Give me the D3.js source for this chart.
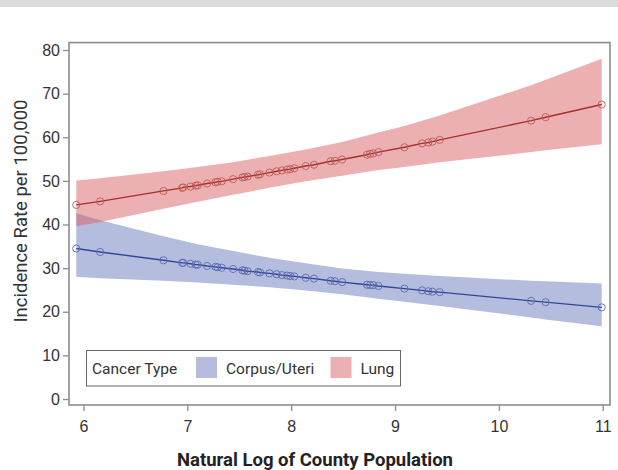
<!DOCTYPE html>
<html>
<head>
<meta charset="utf-8">
<script src="https://cdn.jsdelivr.net/npm/d3@7"></script>
<style>
  body { margin: 0; background: #fff; }
  svg { font-family: Roboto, "Liberation Sans", sans-serif; }
  .axis text { font-size: 16px; fill: #333; }
  .axis path { display: none; }
  .axis line { stroke: #8c8c8c; stroke-width: 1.3; }
</style>
</head>
<body>
<div id="chart"></div>
<script>
// log county population for each county (same x for both cancer types)
var logPop = [5.93, 6.16, 6.77, 6.95, 6.96, 7.03, 7.08, 7.10, 7.19, 7.27, 7.29, 7.33, 7.44, 7.53, 7.55, 7.58,
    7.68, 7.70, 7.79, 7.86, 7.91, 7.96, 7.99, 8.03, 8.14, 8.22, 8.38, 8.42, 8.49, 8.73, 8.76, 8.79, 8.84,
    9.09, 9.26, 9.32, 9.36, 9.43, 10.31, 10.45, 10.99];

// predicted incidence rates
var lungRate = [44.5, 45.3, 47.7, 48.4, 48.5, 48.7, 48.9, 49.0, 49.4, 49.7, 49.8, 49.9, 50.4, 50.8, 50.9, 51.0,
    51.4, 51.5, 51.9, 52.2, 52.4, 52.6, 52.7, 52.9, 53.4, 53.7, 54.5, 54.6, 54.9, 56.0, 56.2, 56.3, 56.6,
    57.7, 58.6, 58.8, 59.0, 59.4, 63.8, 64.6, 67.5];
var uteriRate = [34.5, 33.7, 31.8, 31.2, 31.2, 31.0, 30.8, 30.8, 30.5, 30.3, 30.2, 30.1, 29.8, 29.5, 29.4, 29.3,
    29.1, 29.0, 28.8, 28.6, 28.4, 28.3, 28.2, 28.1, 27.8, 27.6, 27.1, 27.0, 26.8, 26.2, 26.1, 26.1, 25.9,
    25.3, 24.9, 24.7, 24.6, 24.5, 22.5, 22.2, 21.0];

// confidence bands
var bandX = [5.93, 6.16, 6.77, 7.10, 7.44, 7.79, 8.14, 8.49, 8.84, 9.09, 9.43, 10.31, 10.45, 10.99];
var lungUpper = [50.1, 50.6, 52.2, 53.2, 54.3, 55.7, 57.2, 58.9, 61.1, 62.6, 65.0, 71.9, 73.2, 78.0];
var lungLower = [39.6, 40.6, 43.6, 45.2, 46.8, 48.4, 49.9, 51.2, 52.5, 53.2, 54.3, 56.6, 57.0, 58.4];
var uteriUpper = [42.6, 41.0, 37.3, 35.5, 33.9, 32.4, 31.1, 29.9, 29.1, 28.7, 28.2, 27.1, 27.0, 26.5];
var uteriLower = [28.0, 27.7, 27.1, 26.7, 26.2, 25.6, 24.9, 24.0, 23.0, 22.3, 21.3, 18.7, 18.2, 16.7];

var xTicks = [6, 7, 8, 9, 10, 11];
var yTicks = [0, 10, 20, 30, 40, 50, 60, 70, 80];

var margin = {top: 42.6, left: 69, right: 8, bottom: 65};
var width = 618 - margin.left - margin.right;
var height = 470 - margin.top - margin.bottom;

var svg = d3.select("#chart").append("svg")
    .attr("width", 618)
    .attr("height", 470);

// grey strip at the top
svg.append("rect")
    .attr("x", 0).attr("y", 0)
    .attr("width", 618).attr("height", 7)
    .attr("fill", "#dcdcdc");

var g = svg.append("g")
    .attr("transform", "translate(" + margin.left + "," + margin.top + ")");

var x = d3.scaleLinear().domain([5.86, 11.07]).range([0, width]);
var y = d3.scaleLinear().domain([-1.375, 81.7]).range([height, 0]);

var groups = [
    {name: "Corpus/Uteri", rate: uteriRate, upper: uteriUpper, lower: uteriLower,
        band: "rgba(107,123,191,0.5)", line: "#2f4796", dot: "#5a6cb0"},
    {name: "Lung", rate: lungRate, upper: lungUpper, lower: lungLower,
        band: "rgba(216,88,92,0.47)", line: "#a3302b", dot: "#bf5a55"}
];

var area = d3.area()
    .x(function(d) { return x(d.x); })
    .y0(function(d) { return y(d.lo); })
    .y1(function(d) { return y(d.hi); });

var line = d3.line()
    .x(function(d) { return x(d.x); })
    .y(function(d) { return y(d.v); });

groups.forEach(function(grp) {
    var bandData = bandX.map(function(v, i) {
        return {x: v, lo: grp.lower[i], hi: grp.upper[i]};
    });
    g.append("path")
        .datum(bandData)
        .attr("d", area)
        .attr("fill", grp.band);
});

groups.forEach(function(grp) {
    var pts = logPop.map(function(v, i) { return {x: v, v: grp.rate[i]}; });

    g.append("path")
        .datum(pts)
        .attr("d", line)
        .attr("fill", "none")
        .attr("stroke", grp.line)
        .attr("stroke-width", 1.4);

    g.selectAll(null)
        .data(pts)
        .enter().append("circle")
        .attr("cx", function(d) { return x(d.x); })
        .attr("cy", function(d) { return y(d.v); })
        .attr("r", 3.6)
        .attr("fill", "none")
        .attr("stroke", grp.dot)
        .attr("stroke-width", 0.9);
});

// axes
g.append("g")
    .attr("class", "axis")
    .call(d3.axisLeft(y).tickValues(yTicks).tickFormat(d3.format("d"))
        .tickSize(6).tickPadding(3).tickSizeOuter(0));

g.append("g")
    .attr("class", "axis")
    .attr("transform", "translate(0," + height + ")")
    .call(d3.axisBottom(x).tickValues(xTicks).tickFormat(d3.format("d"))
        .tickSize(6).tickPadding(10).tickSizeOuter(0));

// frame
g.append("rect")
    .attr("x", 0).attr("y", 0)
    .attr("width", width).attr("height", height)
    .attr("fill", "none")
    .attr("stroke", "#8c8c8c")
    .attr("stroke-width", 1.6);

// axis titles
svg.append("text")
    .attr("transform", "translate(27,211) rotate(-90)")
    .attr("text-anchor", "middle")
    .style("font-size", "18.5px")
    .attr("fill", "#333")
    .text("Incidence Rate per 100,000");

svg.append("text")
    .attr("x", 315)
    .attr("y", 466)
    .attr("text-anchor", "middle")
    .style("font-size", "18.5px")
    .style("font-weight", "bold")
    .attr("fill", "#222")
    .text("Natural Log of County Population");

// legend
var legend = svg.append("g");
legend.append("rect")
    .attr("x", 86.5).attr("y", 350.5)
    .attr("width", 314).attr("height", 35.5)
    .attr("fill", "#fff")
    .attr("stroke", "#666")
    .attr("stroke-width", 1);

legend.append("text")
    .attr("x", 92).attr("y", 374)
    .style("font-size", "15.5px")
    .attr("fill", "#333")
    .text("Cancer Type");

var legX = [196, 330.5];
groups.forEach(function(grp, i) {
    legend.append("rect")
        .attr("x", legX[i]).attr("y", 357)
        .attr("width", 21).attr("height", 21)
        .attr("fill", grp.band);
    legend.append("text")
        .attr("x", legX[i] + 30).attr("y", 374)
        .style("font-size", "15.5px")
        .attr("fill", "#333")
        .text(grp.name);
});
</script>
</body>
</html>
